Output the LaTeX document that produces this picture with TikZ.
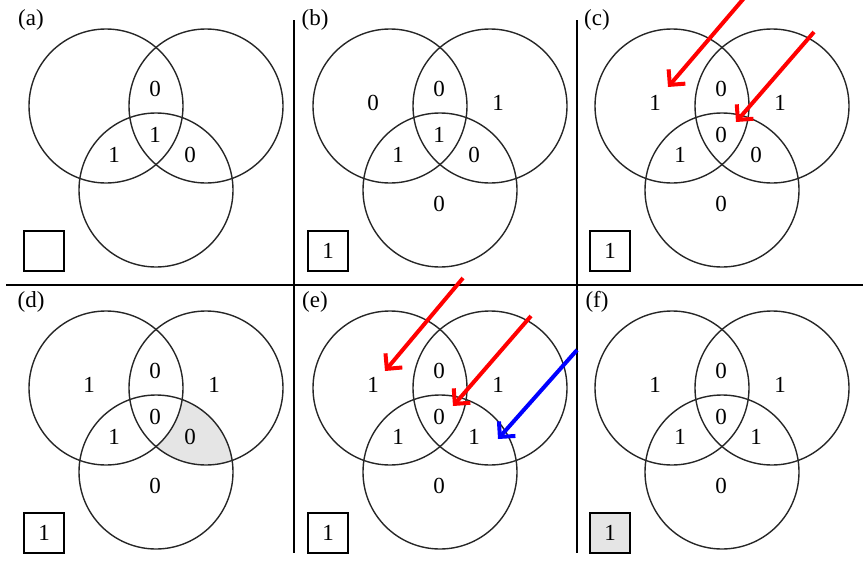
\documentclass[tikz,border=0pt]{standalone}
\usepackage{fontspec}
\setmainfont{Liberation Serif}
\usetikzlibrary{arrows.meta}

% one panel: letter, box value, then the seven region values
\newcommand{\venntrio}[9]{%
  \node[tag] (#1-tag) at (31,20) {(#1)};
  \node[ring] (#1-l) at (106,106) {};
  \node[ring] (#1-r) at (206,106) {};
  \node[ring] (#1-b) at (156,190) {};
  \node[val] (#1-lo) at (89,103) {#3};
  \node[val] (#1-lr) at (155,89) {#4};
  \node[val] (#1-ro) at (214,103) {#5};
  \node[val] (#1-mid) at (155,135) {#6};
  \node[val] (#1-lb) at (114,155) {#7};
  \node[val] (#1-rb) at (190,155) {#8};
  \node[val] (#1-bo) at (155,204) {#9};
  \node[valbox] (#1-box) at (44,251) {#2};
}

\begin{document}
\begin{tikzpicture}[
  x=0.5pt, y=-0.5pt,
  ring/.style={
    circle, draw=black!85, line width=0.7pt, minimum size=77pt, inner sep=0pt
  },
  val/.style={font=\fontsize{11.5}{13}\selectfont, inner sep=0pt},
  tag/.style={font=\fontsize{11.5}{13}\selectfont, inner sep=0pt},
  valbox/.style={
    draw, line width=0.7pt, minimum size=20pt, inner sep=0pt,
    font=\fontsize{11.5}{13}\selectfont
  },
  rule/.style={line width=0.8pt},
  hit/.style={-{Straight Barb[length=5.5pt,width=11pt]}, line width=2pt}
]
\useasboundingbox (0,0) rectangle (867,562);

\draw[rule] (6,285) -- (863,285);
\draw[rule] (294,20) -- (294,553);
\draw[rule] (577,20) -- (577,553);

\begin{scope}
  \venntrio{a}{}{}{0}{}{1}{1}{0}{}
\end{scope}
\begin{scope}[shift={(284,0)}]
  \venntrio{b}{1}{0}{0}{1}{1}{1}{0}{0}
\end{scope}
\begin{scope}[shift={(566,0)}]
  \venntrio{c}{1}{1}{0}{1}{0}{1}{0}{0}
\end{scope}
\begin{scope}[shift={(0,282)}]
  \begin{scope}
    \clip (206,106) circle[radius=77];
    \clip (156,190) circle[radius=77];
    \fill[gray!20, even odd rule] (106,106) circle[radius=77]
      (0,0) rectangle (290,280);
  \end{scope}
  \venntrio{d}{1}{1}{0}{1}{0}{1}{0}{0}
\end{scope}
\begin{scope}[shift={(284,282)}]
  \venntrio{e}{1}{1}{0}{1}{0}{1}{1}{0}
\end{scope}
\begin{scope}[shift={(566,282)}, valbox/.append style={fill=gray!20}]
  \venntrio{f}{1}{1}{0}{1}{0}{1}{1}{0}
\end{scope}

% arrows
\coordinate (c-from1) at (745,-3);
\coordinate (c-to1) at (668,87);
\coordinate (c-from2) at (814,32);
\coordinate (c-to2) at (736,122);
\coordinate (e-from1) at (463,278);
\coordinate (e-to1) at (385,371);
\coordinate (e-from2) at (531,316);
\coordinate (e-to2) at (453,406);
\coordinate (e-from3) at (577,350);
\coordinate (e-to3) at (498,439);

\draw[hit, red] (c-from1) -- (c-to1);
\draw[hit, red] (c-from2) -- (c-to2);
\draw[hit, red] (e-from1) -- (e-to1);
\draw[hit, red] (e-from2) -- (e-to2);
\draw[hit, blue] (e-from3) -- (e-to3);

\end{tikzpicture}
\end{document}
